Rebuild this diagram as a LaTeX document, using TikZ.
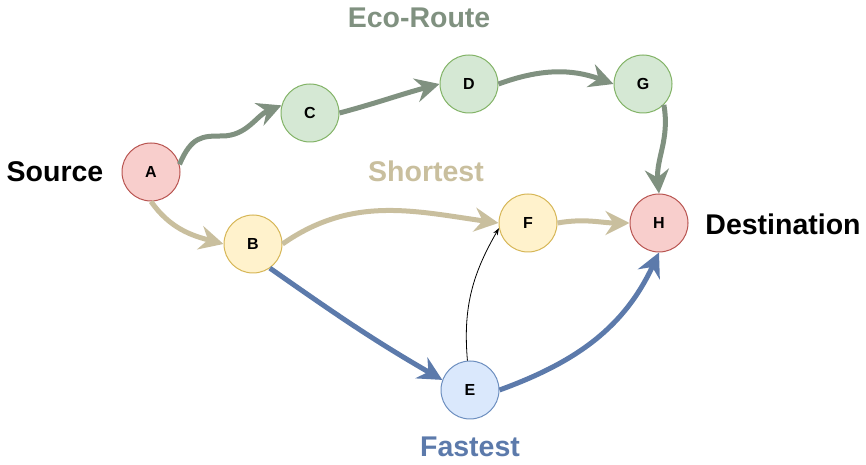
\documentclass[tikz,border=0pt]{standalone}
\usepackage{fontspec}
\setmainfont{Liberation Sans}
\usetikzlibrary{arrows.meta}

\definecolor{ecoline}{RGB}{128,145,128}
\definecolor{shortline}{RGB}{201,191,158}
\definecolor{fastline}{RGB}{92,122,171}
\definecolor{redfill}{HTML}{F8CECC}
\definecolor{redstroke}{HTML}{B85450}
\definecolor{greenfill}{HTML}{D5E8D4}
\definecolor{greenstroke}{HTML}{82B366}
\definecolor{yellowfill}{HTML}{FFF2CC}
\definecolor{yellowstroke}{HTML}{D6B656}
\definecolor{bluefill}{HTML}{DAE8FC}
\definecolor{bluestroke}{HTML}{6C8EBF}

\begin{document}
\begin{tikzpicture}[x=1pt,y=1pt]
	\tikzset{
		city/.style={circle,minimum size=58pt,inner sep=0pt,line width=1pt,
			font=\fontsize{16}{16}\selectfont\bfseries},
		redcity/.style={city,draw=redstroke,fill=redfill},
		greencity/.style={city,draw=greenstroke,fill=greenfill},
		yellowcity/.style={city,draw=yellowstroke,fill=yellowfill},
		bluecity/.style={city,draw=bluestroke,fill=bluefill},
		route/.style={line width=5pt,-{Stealth[length=24pt,width=24pt,inset=8pt]}},
		eco/.style={route,draw=ecoline},
		short/.style={route,draw=shortline},
		fast/.style={route,draw=fastline},
		tag/.style={font=\fontsize{28.5}{28.5}\selectfont\bfseries}
	}
	\useasboundingbox (0,0) rectangle (866,465);
	% the cities
	\node[redcity] (A) at (151,293) {A};
	\node[yellowcity] (B) at (253,221) {B};
	\node[greencity] (C) at (310,352) {C};
	\node[greencity] (D) at (469,381) {D};
	\node[greencity] (G) at (643,381) {G};
	\node[yellowcity] (F) at (528,242) {F};
	\node[redcity] (H) at (659,242) {H};
	\node[bluecity] (E) at (470,75) {E};
	% labels
	\node[tag] (src) at (55,293) {Source};
	\node[tag] (dst) at (783,241) {Destination};
	\node[tag,text=ecoline] (ecotag) at (419,447) {Eco-Route};
	\node[tag,text=shortline] (shorttag) at (426,294) {Shortest};
	\node[tag,text=fastline] (fasttag) at (470,18) {Fastest};
	% eco route
	\coordinate (wave) at (222,329);
	\draw[eco] (A.15) .. controls +(12,28) and +(-20,0) .. (wave)
		.. controls +(25,0) and +(-25,-10) .. (C.165);
	\draw[eco] (C.east) to[out=15,in=195] (D.west);
	\draw[eco] (D.east) to[out=20,in=160] (G.west);
	\draw[eco] (G.-45) to[out=-80,in=95] (H.north);
	% shortest route
	\draw[short] (A.south) to[out=-55,in=165] (B.west);
	\draw[short] (B.east) to[out=35,in=172] (F.west);
	\draw[short] (F.east) to[out=10,in=180] (H.west);
	% fastest route
	\draw[fast] (B.-55) to[out=-35,in=150] (E.160);
	\draw[fast] (E.east) to[out=20,in=-115] (H.south);
	% link E to F
	\draw[-{Stealth[length=7pt,width=5pt]},line width=0.8pt] (E.95) to[out=95,in=-120] (F.190);
\end{tikzpicture}
\end{document}
